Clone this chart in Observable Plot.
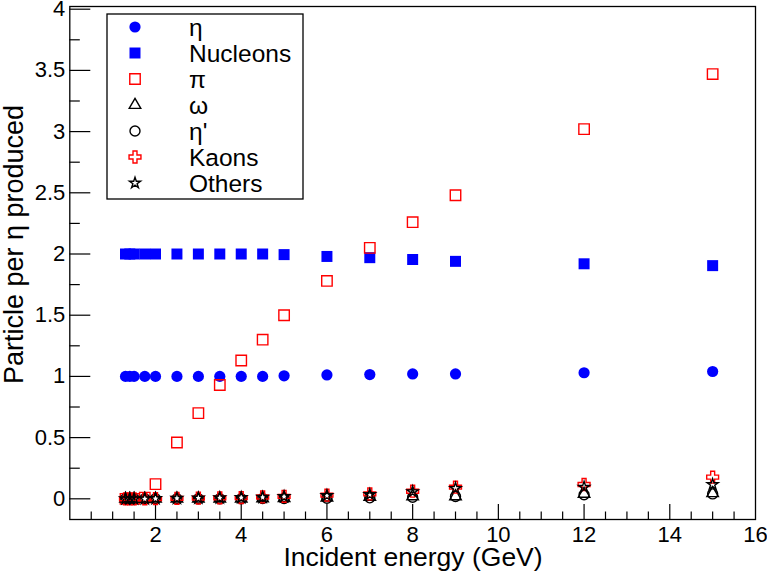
<!DOCTYPE html>
<html>
<head>
<meta charset="utf-8">
<script src="https://cdn.jsdelivr.net/npm/d3@7"></script>
<script src="https://cdn.jsdelivr.net/npm/@observablehq/plot@0.6"></script>
<style>
  html, body { margin: 0; padding: 0; background: #fff; }
  #chart { width: 767px; height: 573px; }
</style>
</head>
<body>
<div id="chart"></div>
<script>
// ---- data ----
const energies = [1.3, 1.4, 1.5, 1.75, 2, 2.5, 3, 3.5, 4, 4.5, 5, 6, 7, 8, 9, 12, 15];
const etaVals      = [1, 1, 1, 1, 1, 1, 1, 1, 1, 1, 1.005, 1.012, 1.015, 1.02, 1.02, 1.03, 1.04];
const nucleonVals  = [2, 2, 2, 2, 2, 2, 2, 2, 2, 2, 1.995, 1.98, 1.97, 1.955, 1.94, 1.92, 1.905];
const pionVals     = [0, 0, 0, 0.01, 0.12, 0.46, 0.70, 0.93, 1.13, 1.30, 1.50, 1.78, 2.05, 2.26, 2.48, 3.02, 3.47];
const omegaVals    = [0, 0, 0, 0, 0, 0, 0, 0, 0, 0.003, 0.005, 0.01, 0.015, 0.02, 0.02, 0.04, 0.045];
const etaPrimeVals = [0, 0, 0, 0, 0, 0, 0, 0, 0, 0.002, 0.003, 0.005, 0.008, 0.013, 0.019, 0.033, 0.04];
const kaonVals     = [0, 0, 0, 0, 0.002, 0.004, 0.006, 0.008, 0.01, 0.015, 0.02, 0.03, 0.04, 0.062, 0.095, 0.117, 0.177];
const otherVals    = [0, 0, 0, 0, 0.002, 0.004, 0.006, 0.008, 0.01, 0.012, 0.018, 0.027, 0.035, 0.058, 0.085, 0.095, 0.117];

const seriesNames = ["η", "Nucleons", "π", "ω", "η'", "Kaons", "Others"];
const xTickLabels = [2, 4, 6, 8, 10, 12, 14, 16];
const yTickLabels = [0, 0.5, 1, 1.5, 2, 2.5, 3, 3.5, 4];

// ---- styling ----
const styles = [
  {values: etaVals,      symbol: "circle",   d3sym: d3.symbolCircle,   fill: "#0000ff", stroke: "none",    r: 5.6},
  {values: nucleonVals,  symbol: "square",   d3sym: d3.symbolSquare,   fill: "#0000ff", stroke: "none",    r: 6.2},
  {values: pionVals,     symbol: "square",   d3sym: d3.symbolSquare,   fill: "none",    stroke: "#ff0000", r: 5.9},
  {values: omegaVals,    symbol: "triangle", d3sym: d3.symbolTriangle, fill: "none",    stroke: "#000",    r: 4.3},
  {values: etaPrimeVals, symbol: "circle",   d3sym: d3.symbolCircle,   fill: "none",    stroke: "#000",    r: 5.0},
  {values: kaonVals,     symbol: "cross",    d3sym: d3.symbolCross,    fill: "none",    stroke: "#ff0000", r: 5.0},
  {values: otherVals,    symbol: "star",     d3sym: d3.symbolStar,     fill: "none",    stroke: "#000",    r: 3.5}
];

const W = 767, H = 573;
const mL = 69.3, mR = 12, mT = 6, mB = 54;
const innerW = W - mL - mR, innerH = H - mT - mB;

const xMajor = [2, 4, 6, 8, 10, 12, 14];
const xMinor = d3.range(0.5, 16, 0.5).filter(v => v % 2 !== 0);
const yMajor = d3.range(0, 4.001, 0.5);
const yMinor = d3.range(0.25, 4, 0.5);

const dotMarks = styles.map((s, i) =>
  Plot.dot(energies.map((e, j) => ({e, v: s.values[j], series: seriesNames[i]})), {
    x: "e", y: "v", symbol: s.symbol, r: s.r,
    fill: s.fill, stroke: s.stroke, strokeWidth: 1.4
  })
);

const plot = Plot.plot({
  width: W, height: H,
  marginLeft: mL, marginRight: mR, marginTop: mT, marginBottom: mB,
  style: {fontFamily: "'Liberation Sans', Arial, sans-serif", background: "#fff", color: "#000"},
  x: {domain: [0, 16], label: null},
  y: {domain: [-0.169, 4.022], label: null},
  marks: [
    Plot.tickX(xMajor, {x: d => d, insetTop: innerH - 15, stroke: "#000", strokeWidth: 1.2}),
    Plot.tickX(xMinor, {x: d => d, insetTop: innerH - 7.5, stroke: "#000", strokeWidth: 1.2}),
    Plot.tickY(yMajor, {y: d => d, insetRight: innerW - 21, stroke: "#000", strokeWidth: 1.2}),
    Plot.tickY(yMinor, {y: d => d, insetRight: innerW - 10.5, stroke: "#000", strokeWidth: 1.2}),
    Plot.axisX({ticks: xTickLabels, tickSize: 0, tickPadding: 7, fontSize: 22, tickFormat: d => String(d), label: null}),
    Plot.axisY({ticks: yTickLabels, tickSize: 0, tickPadding: 4.5, fontSize: 22, tickFormat: d => String(d), label: null}),
    ...dotMarks,
    Plot.frame({stroke: "#000", strokeWidth: 1.3})
  ]
});

document.getElementById("chart").appendChild(plot);

// axis titles and legend
const svg = d3.select(plot);
svg.append("text")
  .attr("x", 413).attr("y", 566)
  .attr("text-anchor", "middle")
  .attr("font-size", 26.5)
  .attr("fill", "#000")
  .text("Incident energy (GeV)");
svg.append("text")
  .attr("transform", "translate(23,244.5) rotate(-90)")
  .attr("text-anchor", "middle")
  .attr("font-size", 27)
  .attr("fill", "#000")
  .text("Particle per η produced");

const lg = svg.append("g");
lg.append("rect")
  .attr("x", 107).attr("y", 14).attr("width", 196).attr("height", 185)
  .attr("fill", "#fff").attr("stroke", "#000").attr("stroke-width", 1.3);
styles.forEach((s, i) => {
  const cy = 27 + 26 * i;
  lg.append("path")
    .attr("transform", `translate(135,${cy})`)
    .attr("d", d3.symbol(s.d3sym, Math.PI * s.r * s.r)())
    .attr("fill", s.fill).attr("stroke", s.stroke).attr("stroke-width", 1.4);
  lg.append("text")
    .attr("x", 189).attr("y", cy).attr("dy", "0.35em")
    .attr("text-anchor", "start")
    .attr("font-size", 24.5).attr("fill", "#000")
    .text(seriesNames[i]);
});
</script>
</body>
</html>
